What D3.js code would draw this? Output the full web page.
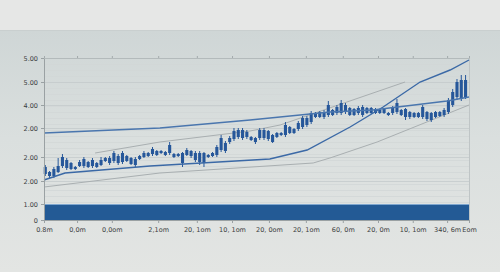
<!DOCTYPE html>
<html>
<head>
    <meta charset='utf-8'>
</head>
<style>
    body { margin: 0; background: #e6e7e6; }
    text { font-family: 'DejaVu Sans', sans-serif; }
</style>
<body>
    <svg width="500" height="272"></svg>
    <script src="https://d3js.org/d3.v7.min.js"></script>
    <script>
        // candle bodies (low side / high side of body) and wicks, one per session
        var bodyLo = [2.30, 2.20, 2.20, 2.40, 2.70, 2.60, 2.55, 2.55, 2.70, 2.70, 2.65, 2.70, 2.65, 2.75, 2.95, 2.85,
            2.95, 2.85, 2.90, 2.95, 2.80, 2.75, 3.05, 3.15, 3.20, 3.30, 3.25, 3.35, 3.25, 3.35, 3.15, 3.20,
            2.85, 3.25, 3.20, 3.00, 2.90, 2.85, 3.15, 3.20, 3.25, 3.50, 3.45, 3.90, 4.05, 4.15, 4.10, 4.15,
            4.00, 3.90, 4.10, 4.10, 4.05, 3.90, 4.15, 4.25, 4.25, 4.35, 4.35, 4.55, 4.65, 4.75, 4.90, 5.15,
            5.15, 5.15, 5.25, 5.25, 5.35, 5.35, 5.40, 5.25, 5.25, 5.35, 5.25, 5.35, 5.35, 5.35, 5.35, 5.35,
            5.25, 5.35, 5.40, 5.25, 5.15, 5.15, 5.15, 5.15, 5.15, 5.05, 5.00, 5.15, 5.20, 5.25, 5.40, 5.75,
            6.15, 6.05, 6.15];
        var bodyHi = [2.65, 2.40, 2.55, 2.70, 3.15, 3.00, 2.85, 2.65, 2.90, 3.05, 2.90, 3.00, 2.85, 3.00, 3.10, 3.10,
            3.35, 3.20, 3.35, 3.20, 3.10, 3.05, 3.20, 3.35, 3.35, 3.55, 3.45, 3.45, 3.40, 3.75, 3.30, 3.30,
            3.35, 3.50, 3.45, 3.35, 3.35, 3.35, 3.25, 3.35, 3.65, 4.10, 3.85, 4.10, 4.45, 4.50, 4.50, 4.40,
            4.15, 4.10, 4.50, 4.50, 4.45, 4.25, 4.35, 4.35, 4.75, 4.65, 4.55, 4.85, 5.10, 5.10, 5.35, 5.35,
            5.40, 5.40, 5.75, 5.50, 5.65, 5.85, 5.75, 5.60, 5.55, 5.60, 5.65, 5.60, 5.60, 5.55, 5.50, 5.55,
            5.35, 5.60, 5.85, 5.50, 5.55, 5.40, 5.35, 5.35, 5.65, 5.40, 5.35, 5.40, 5.40, 5.50, 6.00, 6.40,
            6.90, 7.00, 7.00];
        var wickUp = [0.10, 0.05, 0.10, 0.40, 0.15, 0.10, 0.05, 0.05, 0.10, 0.10, 0.05, 0.10, 0.05, 0.15, 0.05, 0.10,
            0.10, 0.10, 0.10, 0.05, 0.05, 0.10, 0.05, 0.10, 0.05, 0.10, 0.05, 0.05, 0.05, 0.15, 0.05, 0.05,
            0.05, 0.10, 0.05, 0.10, 0.10, 0.05, 0.05, 0.05, 0.10, 0.15, 0.10, 0.10, 0.15, 0.10, 0.10, 0.10,
            0.05, 0.05, 0.10, 0.10, 0.05, 0.05, 0.05, 0.05, 0.15, 0.05, 0.05, 0.10, 0.10, 0.10, 0.10, 0.05,
            0.05, 0.10, 0.20, 0.05, 0.10, 0.15, 0.10, 0.05, 0.05, 0.10, 0.10, 0.05, 0.05, 0.05, 0.05, 0.05,
            0.05, 0.10, 0.20, 0.05, 0.05, 0.05, 0.05, 0.05, 0.10, 0.05, 0.05, 0.05, 0.05, 0.10, 0.10, 0.15,
            0.15, 0.25, 0.25];
        var wickDn = [0.10, 0.10, 0.10, 0.05, 0.10, 0.10, 0.05, 0.05, 0.05, 0.10, 0.05, 0.10, 0.05, 0.05, 0.05, 0.10,
            0.10, 0.10, 0.10, 0.05, 0.05, 0.10, 0.05, 0.05, 0.05, 0.10, 0.05, 0.05, 0.05, 0.10, 0.05, 0.05,
            0.20, 0.05, 0.10, 0.10, 0.15, 0.20, 0.05, 0.05, 0.10, 0.10, 0.10, 0.10, 0.10, 0.10, 0.10, 0.10,
            0.05, 0.10, 0.10, 0.10, 0.10, 0.05, 0.05, 0.05, 0.10, 0.05, 0.05, 0.10, 0.10, 0.10, 0.10, 0.05,
            0.05, 0.10, 0.10, 0.05, 0.10, 0.10, 0.10, 0.05, 0.05, 0.10, 0.10, 0.05, 0.05, 0.05, 0.05, 0.05,
            0.05, 0.10, 0.10, 0.05, 0.15, 0.10, 0.05, 0.05, 0.10, 0.10, 0.10, 0.05, 0.05, 0.10, 0.10, 0.10,
            0.15, 0.10, 0.10];

        // trend lines: position on the session axis and level
        var upperBlueT = [0, 27, 48, 66.6, 76.6, 93.9, 99];
        var upperBlueV = [4.35, 4.6, 5.0, 5.4, 5.5, 5.95, 6.15];
        var steepBlueT = [0, 4.9, 24.7, 52.6, 61.3, 71.3, 79, 87.6, 94.6, 99];
        var steepBlueV = [2.0, 2.35, 2.7, 3.05, 3.5, 4.65, 5.65, 6.9, 7.5, 8.0];
        var upperGrayT = [11.9, 27, 48, 55, 84.1];
        var upperGrayV = [3.35, 3.9, 4.45, 4.75, 6.9];
        var lowerGrayT = [0, 27, 62.7, 66.6, 77.6, 99];
        var lowerGrayV = [1.65, 2.35, 2.85, 3.1, 3.9, 5.75];

        // volume band along the bottom
        var baseBand = 0.8;

        var yTickVals = [0, 0.8, 1.95, 3.15, 4.6, 5.75, 6.9, 8.1];
        var yTickLabels = ["0", "1.00", "2.00", "2.00", "2.00", "4.00", "5.00", "5.00"];
        var xTickVals = [0, 7.7, 15.8, 26.6, 35.6, 43.8, 52.4, 61.0, 69.6, 77.8, 85.9, 93.9, 99];
        var xTickLabels = ["0.8m", "0,0m", "0,0om", "2,1om", "20, 1om", "10, 1om", "20, 0om", "20, 1om",
            "60, 0m", "20, 0m", "10, 1om", "340, 6m", "Eom"];

        var svg = d3.select('svg');
        var margin = { left: 44, right: 31, top: 58, bottom: 52 };
        var width = 500, height = 272;

        var defs = svg.append('defs');
        var grad = defs.append('linearGradient').attr('id', 'bg').attr('x1', 0).attr('y1', 0).attr('x2', 0).attr('y2', 1);
        grad.append('stop').attr('offset', '0%').attr('stop-color', '#cfd6d6');
        grad.append('stop').attr('offset', '45%').attr('stop-color', '#dadfde');
        grad.append('stop').attr('offset', '100%').attr('stop-color', '#e3e5e3');

        svg.append('rect').attr('width', width).attr('height', 30).attr('fill', '#e6e7e6');
        svg.append('rect').attr('y', 30).attr('width', width).attr('height', height - 30).attr('fill', 'url(#bg)');
        svg.append('line').attr('x1', 0).attr('x2', width).attr('y1', 30.5).attr('y2', 30.5)
            .attr('stroke', '#c9cfcf');

        var x = d3.scaleLinear().domain([0, 99]).range([margin.left, width - margin.right]);
        var y = d3.scaleLinear().domain([0, 8.1]).range([height - margin.bottom, margin.top]);
        // candles sit slightly inside the right frame
        var xc = d3.scaleLinear().domain([0, bodyLo.length - 1]).range([x(0.3), x(98.2)]);

        // faint minor gridlines
        svg.append('g').selectAll('line')
            .data(d3.range(0.3, 8.1, 0.3))
            .enter().append('line')
            .attr('x1', x(0)).attr('x2', x(99))
            .attr('y1', function(d) { return Math.round(y(d)) + 0.5; })
            .attr('y2', function(d) { return Math.round(y(d)) + 0.5; })
            .attr('stroke', '#d2d7d7').attr('stroke-width', 0.8);
        // major gridlines
        svg.append('g').selectAll('line')
            .data(yTickVals.slice(1))
            .enter().append('line')
            .attr('x1', x(0)).attr('x2', x(99))
            .attr('y1', function(d) { return Math.round(y(d)) + 0.5; })
            .attr('y2', function(d) { return Math.round(y(d)) + 0.5; })
            .attr('stroke', '#c4cacb').attr('stroke-width', 0.8);

        // right frame line
        svg.append('line').attr('x1', x(99) + 0.5).attr('x2', x(99) + 0.5)
            .attr('y1', y(8.1)).attr('y2', y(0)).attr('stroke', '#bfc5c6');

        // bottom band
        svg.append('rect')
            .attr('x', x(0)).attr('y', y(baseBand))
            .attr('width', x(99) - x(0)).attr('height', y(0) - y(baseBand))
            .attr('fill', '#235a95');
        svg.append('line').attr('x1', x(0)).attr('x2', x(99))
            .attr('y1', y(baseBand) + 0.5).attr('y2', y(baseBand) + 0.5)
            .attr('stroke', '#7ea6cf').attr('stroke-width', 1);

        function pts(t, v) {
            return t.map(function(d, i) { return [d, v[i]]; });
        }
        var line = d3.line()
            .x(function(d) { return x(d[0]); })
            .y(function(d) { return y(d[1]); });

        svg.append('path').datum(pts(lowerGrayT, lowerGrayV)).attr('d', line)
            .attr('fill', 'none').attr('stroke', '#a9afb1').attr('stroke-width', 1);
        svg.append('path').datum(pts(upperGrayT, upperGrayV)).attr('d', line)
            .attr('fill', 'none').attr('stroke', '#a9afb1').attr('stroke-width', 1);

        // candles
        var candles = bodyLo.map(function(d, i) {
            return { i: i, lo: d, hi: bodyHi[i], high: bodyHi[i] + wickUp[i], low: d - wickDn[i] };
        });
        var step = xc(1) - xc(0);
        var cg = svg.append('g').selectAll('g').data(candles).enter().append('g');
        cg.append('line')
            .attr('x1', function(d) { return xc(d.i); })
            .attr('x2', function(d) { return xc(d.i); })
            .attr('y1', function(d) { return y(d.high); })
            .attr('y2', function(d) { return y(d.low); })
            .attr('stroke', '#26579a').attr('stroke-width', 1);
        cg.append('rect')
            .attr('x', function(d) { return xc(d.i) - step * 0.36; })
            .attr('width', step * 0.72)
            .attr('y', function(d) { return y(d.hi); })
            .attr('height', function(d) { return Math.max(1, y(d.lo) - y(d.hi)); })
            .attr('fill', '#26579a');

        svg.append('path').datum(pts(steepBlueT, steepBlueV)).attr('d', line)
            .attr('fill', 'none').attr('stroke', '#3b69a6').attr('stroke-width', 1.4);
        svg.append('path').datum(pts(upperBlueT, upperBlueV)).attr('d', line)
            .attr('fill', 'none').attr('stroke', '#4a76ae').attr('stroke-width', 1.3);

        // axes
        var yAxis = d3.axisLeft(y).tickValues(yTickVals).tickSize(3).tickPadding(3)
            .tickFormat(function(d, i) { return yTickLabels[i]; });
        var gy = svg.append('g').attr('transform', 'translate(' + x(0) + ',0)').call(yAxis);
        gy.select('.domain').attr('stroke', '#9aa1a3');
        gy.selectAll('.tick line').attr('stroke', '#9aa1a3');
        gy.selectAll('text').attr('font-size', 6.5).attr('fill', '#3a3d40');

        var xAxis = d3.axisBottom(x).tickValues(xTickVals).tickSize(3).tickPadding(4)
            .tickFormat(function(d, i) { return xTickLabels[i]; });
        var gx = svg.append('g').attr('transform', 'translate(0,' + y(0) + ')').call(xAxis);
        gx.select('.domain').attr('stroke', '#9aa1a3');
        gx.selectAll('.tick line').attr('stroke', '#9aa1a3');
        gx.selectAll('text').attr('font-size', 6.5).attr('fill', '#3a3d40');

        var xTop = d3.axisTop(x).tickValues(xTickVals).tickSize(2).tickFormat('');
        var gt = svg.append('g').attr('transform', 'translate(0,' + y(8.1) + ')').call(xTop);
        gt.select('.domain').attr('stroke', '#b3babb');
        gt.selectAll('.tick line').attr('stroke', '#a3aaac');
    </script>
</body>
</html>
